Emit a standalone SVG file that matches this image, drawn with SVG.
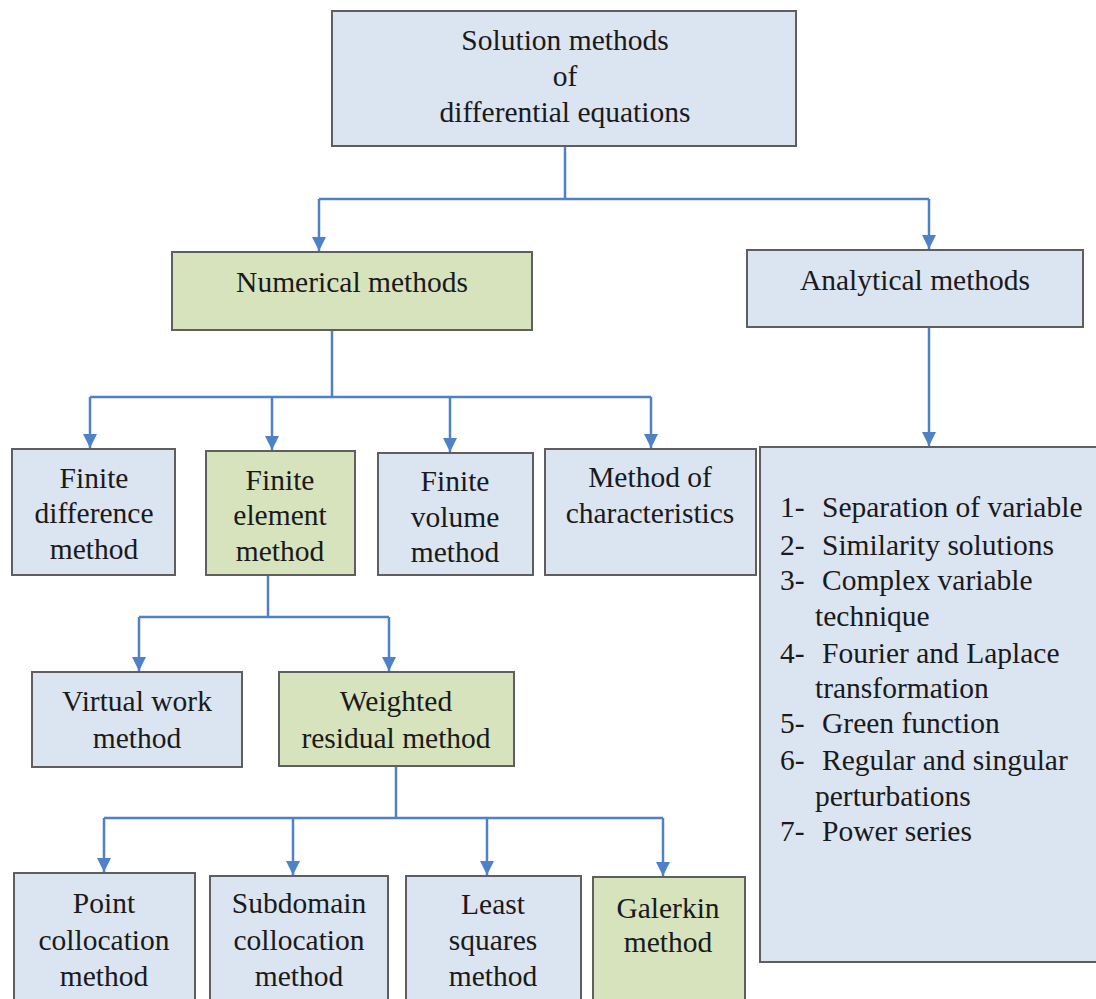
<svg xmlns="http://www.w3.org/2000/svg" width="1096" height="999" viewBox="0 0 1096 999">
<defs>
<style>
.b{fill:#dbe4f1;stroke:#5f5f5f;stroke-width:2}
.g{fill:#d7e3bd;stroke:#5f5f5f;stroke-width:2}
text{font-size:29.5px;fill:#1a1a1a}
.c{text-anchor:middle}
.ln{fill:none;stroke:#4f81c7;stroke-width:2.5}
</style>
<marker id="ah" markerUnits="userSpaceOnUse" markerWidth="14" markerHeight="14" viewBox="0 0 14 14" refX="14" refY="7" orient="auto">
<path d="M0,0 L14,7 L0,14 Z" fill="#4f81c7"/>
</marker>
</defs>
<rect width="1096" height="999" fill="#ffffff"/>
<g id="connectors">
<path class="ln" d="M565,146 V199 M319,199 H929"/>
<path class="ln" d="M319,199 V251" marker-end="url(#ah)"/>
<path class="ln" d="M929,199 V249" marker-end="url(#ah)"/>
<path class="ln" d="M332,330 V397 M90,397 H651"/>
<path class="ln" d="M90,397 V448" marker-end="url(#ah)"/>
<path class="ln" d="M272,397 V450" marker-end="url(#ah)"/>
<path class="ln" d="M450,397 V452" marker-end="url(#ah)"/>
<path class="ln" d="M651,397 V448" marker-end="url(#ah)"/>
<path class="ln" d="M929,327 V446" marker-end="url(#ah)"/>
<path class="ln" d="M268,575 V617 M139,617 H389"/>
<path class="ln" d="M139,617 V671" marker-end="url(#ah)"/>
<path class="ln" d="M389,617 V671" marker-end="url(#ah)"/>
<path class="ln" d="M396,766 V818 M104,818 H663"/>
<path class="ln" d="M104,818 V872" marker-end="url(#ah)"/>
<path class="ln" d="M293,818 V875" marker-end="url(#ah)"/>
<path class="ln" d="M487,818 V875" marker-end="url(#ah)"/>
<path class="ln" d="M663,818 V876" marker-end="url(#ah)"/>
</g>
<g font-family="Liberation Serif, Times New Roman, DejaVu Serif, serif">
<g id="root">
<rect class="b" x="332" y="11" width="464" height="135"/>
<text class="c" x="565" y="50">Solution methods</text>
<text class="c" x="565" y="86">of</text>
<text class="c" x="565" y="122">differential equations</text>
</g>
<g id="numerical">
<rect class="g" x="172" y="252" width="360" height="78"/>
<text class="c" x="352" y="292">Numerical methods</text>
</g>
<g id="analytical">
<rect class="b" x="747" y="250" width="336" height="77"/>
<text class="c" x="915" y="290">Analytical methods</text>
</g>
<g id="fdm">
<rect class="b" x="12" y="449" width="163" height="126"/>
<text class="c" x="94" y="488">Finite</text>
<text class="c" x="94" y="523">difference</text>
<text class="c" x="94" y="559">method</text>
</g>
<g id="fem">
<rect class="g" x="206" y="451" width="149" height="124"/>
<text class="c" x="280" y="490">Finite</text>
<text class="c" x="280" y="525">element</text>
<text class="c" x="280" y="561">method</text>
</g>
<g id="fvm">
<rect class="b" x="378" y="453" width="155" height="122"/>
<text class="c" x="455" y="491">Finite</text>
<text class="c" x="455" y="527">volume</text>
<text class="c" x="455" y="562">method</text>
</g>
<g id="moc">
<rect class="b" x="545" y="449" width="211" height="126"/>
<text class="c" x="650" y="487">Method of</text>
<text class="c" x="650" y="523">characteristics</text>
</g>
<g id="analytical-list">
<rect class="b" x="760" y="447" width="340" height="515"/>
<text x="780" y="517">1-<tspan x="822">Separation of variable</tspan></text>
<text x="780" y="555">2-<tspan x="822">Similarity solutions</tspan></text>
<text x="780" y="590">3-<tspan x="822">Complex variable</tspan></text>
<text x="815" y="626">technique</text>
<text x="780" y="663">4-<tspan x="822">Fourier and Laplace</tspan></text>
<text x="815" y="698">transformation</text>
<text x="780" y="733">5-<tspan x="822">Green function</tspan></text>
<text x="780" y="770">6-<tspan x="822">Regular and singular</tspan></text>
<text x="815" y="806">perturbations</text>
<text x="780" y="841">7-<tspan x="822">Power series</tspan></text>
</g>
<g id="virtual-work">
<rect class="b" x="32" y="672" width="210" height="95"/>
<text class="c" x="137" y="711">Virtual work</text>
<text class="c" x="137" y="748">method</text>
</g>
<g id="weighted-residual">
<rect class="g" x="279" y="672" width="235" height="94"/>
<text class="c" x="396" y="711">Weighted</text>
<text class="c" x="396" y="748">residual method</text>
</g>
<g id="point-collocation">
<rect class="b" x="14" y="873" width="181" height="130"/>
<text class="c" x="104" y="913">Point</text>
<text class="c" x="104" y="950">collocation</text>
<text class="c" x="104" y="986">method</text>
</g>
<g id="subdomain-collocation">
<rect class="b" x="210" y="876" width="178" height="127"/>
<text class="c" x="299" y="913">Subdomain</text>
<text class="c" x="299" y="950">collocation</text>
<text class="c" x="299" y="986">method</text>
</g>
<g id="least-squares">
<rect class="b" x="406" y="876" width="175" height="127"/>
<text class="c" x="493" y="914">Least</text>
<text class="c" x="493" y="950">squares</text>
<text class="c" x="493" y="986">method</text>
</g>
<g id="galerkin">
<rect class="g" x="593" y="877" width="152" height="126"/>
<text class="c" x="668" y="918">Galerkin</text>
<text class="c" x="668" y="952">method</text>
</g>
</g>
</svg>
